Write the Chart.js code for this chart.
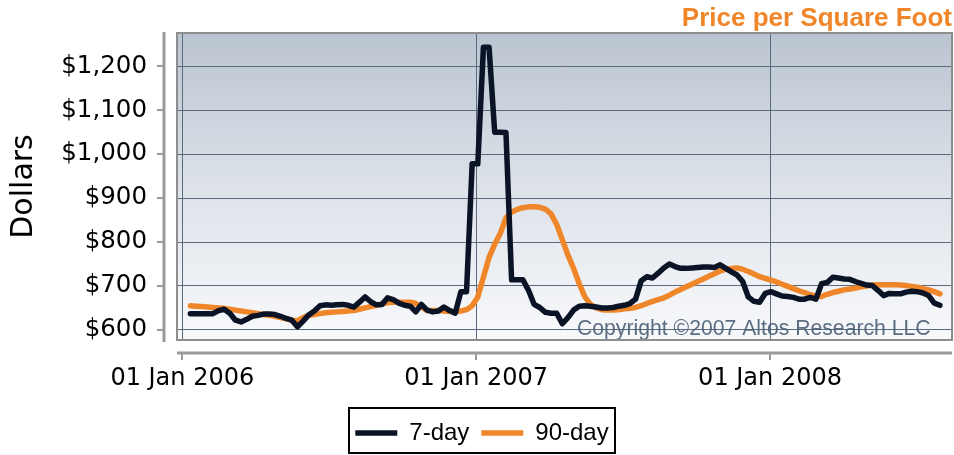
<!DOCTYPE html>
<html>
<head>
<meta charset="utf-8">
<script src="https://cdn.jsdelivr.net/npm/chart.js@4.4.1/dist/chart.umd.min.js"></script>
<style>
  html, body { margin: 0; padding: 0; background: #ffffff; }
  #wrap { width: 954px; height: 455px; }
</style>
</head>
<body>
<div id="wrap"><canvas id="c" width="954" height="455"></canvas></div>
<script>
// ---- Data (weekly readings; day offsets counted from 01 Jan 2006) ----
const firstReadingDay = 10;   // day of the first weekly reading
const readingStepDays = 7;    // readings are weekly

const sevenDay = [
  637,637,637,637,637,644,647,638,622,618,
  624,631,633,636,636,635,631,626,622,607,
  620,634,643,655,657,656,657,658,656,652,
  663,675,664,657,658,673,669,661,656,654,
  641,658,645,641,643,652,644,638,687,687,
  978,978,1243,1243,1050,1050,1049,714,714,714,
  690,658,651,640,638,638,614,628,645,654,
  655,654,652,650,650,651,654,656,660,670,
  712,721,718,729,741,750,744,740,740,741,
  742,743,743,742,748,740,732,725,710,675,
  665,663,683,687,682,677,676,674,670,670,
  674,670,705,708,720,718,716,715,710,706,
  702,701,690,678,683,682,682,686,688,687,
  684,678,661,656
];

const ninetyDay = [
  655,654,653,652,651,650,649,647,645,643,
  641,639,637,635,633,631,628,625,622,621,
  628,633,635,637,639,640,641,642,643,644,
  647,650,653,656,659,662,663,663,663,663,
  660,652,644,644,644,643,642,642,643,646,
  655,675,720,765,795,820,855,868,874,878,
  880,880,879,875,864,840,805,770,740,705,
  675,658,650,646,645,645,646,648,649,651,
  655,660,665,669,673,679,686,692,698,704,
  710,716,722,728,734,738,740,741,738,733,
  727,721,717,713,709,704,699,694,689,685,
  680,677,676,681,685,688,691,693,695,698,
  700,702,703,703,703,703,702,701,699,697,
  694,691,687,682
];

const readingDays = sevenDay.map((_, i) => firstReadingDay + i * readingStepDays);

const seriesNames = ['7-day', '90-day'];
const yTickValues = [600, 700, 800, 900, 1000, 1100, 1200];
const xTickDays = [0, 365, 730];
const xTickLabels = ['01 Jan 2006', '01 Jan 2007', '01 Jan 2008'];
const chartTitle = 'Price per Square Foot';
const yAxisTitle = 'Dollars';
const copyrightText = 'Copyright \u00A92007 Altos Research LLC';

// ---- Styling ----
const DARK = '#0b1426';
const ORANGE = '#f0862a';
const GRID = '#5b6b7f';
const AXIS_GRAY = '#9a9a9a';

const decor = {
  id: 'decor',
  beforeDraw(chart) {
    const { ctx, chartArea: a } = chart;
    const g = ctx.createLinearGradient(0, a.top, 0, a.bottom);
    g.addColorStop(0, '#bac4d0');
    g.addColorStop(0.5, '#dde2e9');
    g.addColorStop(1, '#f8f9fb');
    ctx.save();
    ctx.fillStyle = g;
    ctx.fillRect(a.left, a.top, a.right - a.left, a.bottom - a.top);
    ctx.restore();
  },
  afterDatasetsDraw(chart) {
    const { ctx, chartArea: a } = chart;
    ctx.save();
    ctx.font = '21.2px "Liberation Sans", Arial, sans-serif';
    ctx.fillStyle = 'rgba(74, 94, 118, 0.9)';
    ctx.textAlign = 'left';
    ctx.textBaseline = 'alphabetic';
    ctx.fillText(copyrightText, a.left + 400, a.bottom - 5.5);
    ctx.restore();
  },
  afterDraw(chart) {
    const { ctx, chartArea: a, scales } = chart;
    const x = scales.x, y = scales.y;
    ctx.save();
    // plot frame
    ctx.strokeStyle = '#8e8e8e';
    ctx.lineWidth = 2;
    ctx.strokeRect(a.left, a.top, a.right - a.left, a.bottom - a.top);
    // detached y axis
    const ax = a.left - 13;
    ctx.strokeStyle = AXIS_GRAY;
    ctx.lineWidth = 3;
    ctx.beginPath(); ctx.moveTo(ax, a.top - 1); ctx.lineTo(ax, a.bottom + 2); ctx.stroke();
    ctx.lineWidth = 2;
    y.ticks.forEach(t => {
      const py = Math.round(y.getPixelForValue(t.value));
      ctx.beginPath(); ctx.moveTo(ax - 7, py); ctx.lineTo(ax, py); ctx.stroke();
    });
    // detached x axis
    const ay = a.bottom + 13;
    ctx.lineWidth = 3;
    ctx.beginPath(); ctx.moveTo(a.left, ay); ctx.lineTo(a.right, ay); ctx.stroke();
    ctx.lineWidth = 2;
    x.ticks.forEach(t => {
      const px = Math.round(x.getPixelForValue(t.value));
      ctx.beginPath(); ctx.moveTo(px, ay); ctx.lineTo(px, ay + 7); ctx.stroke();
    });
    // legend frame
    const hb = chart.legend && chart.legend.legendHitBoxes;
    if (hb && hb.length) {
      const l = Math.min(...hb.map(h => h.left)) - 6;
      const r = Math.max(...hb.map(h => h.left + h.width)) + 7;
      ctx.strokeStyle = '#000';
      ctx.lineWidth = 2;
      ctx.strokeRect(Math.round(l), 408, Math.round(r - l), 45);
    }
    ctx.restore();
  }
};

new Chart(document.getElementById('c'), {
  type: 'line',
  data: {
    labels: readingDays,
    datasets: [
      {
        label: seriesNames[0],
        data: sevenDay,
        borderColor: DARK,
        backgroundColor: DARK,
        borderWidth: 5.5,
        borderJoinStyle: 'round',
        borderCapStyle: 'round',
        pointRadius: 0,
        tension: 0,
        fill: false
      },
      {
        label: seriesNames[1],
        data: ninetyDay,
        borderColor: ORANGE,
        backgroundColor: ORANGE,
        borderWidth: 5.5,
        borderJoinStyle: 'round',
        borderCapStyle: 'round',
        pointRadius: 0,
        tension: 0,
        fill: false
      }
    ]
  },
  options: {
    responsive: false,
    animation: false,
    devicePixelRatio: 1,
    layout: { padding: { left: 12, right: 2, top: 0, bottom: 0 } },
    plugins: {
      tooltip: { enabled: false },
      title: {
        display: true,
        text: chartTitle,
        align: 'end',
        color: ORANGE,
        font: { family: '"Liberation Sans", Arial, sans-serif', size: 26, weight: 'bold', lineHeight: 1.0 },
        padding: { top: 6, bottom: 1 }
      },
      legend: {
        display: true,
        position: 'bottom',
        labels: {
          usePointStyle: true,
          pointStyle: 'line',
          pointStyleWidth: 42,
          color: '#000',
          padding: 12,
          font: { family: '"Liberation Sans", Arial, sans-serif', size: 24 }
        }
      }
    },
    scales: {
      x: {
        type: 'linear',
        min: -6.6,
        max: 956,
        afterFit(s) { s.height = 69; s.paddingLeft = 0; s.paddingRight = 0; },
        afterBuildTicks(s) { s.ticks = xTickDays.map(v => ({ value: v })); },
        border: { display: false },
        grid: { color: GRID, lineWidth: 1, drawTicks: false },
        ticks: {
          padding: 24,
          color: '#000',
          maxRotation: 0,
          font: { family: '"DejaVu Sans", sans-serif', size: 24 },
          callback: (v) => { const k = xTickDays.indexOf(v); return k >= 0 ? xTickLabels[k] : ''; }
        }
      },
      y: {
        type: 'linear',
        min: 577,
        max: 1275.6,
        afterFit(s) { s.width = 165; s.paddingTop = 0; s.paddingBottom = 0; },
        afterBuildTicks(s) { s.ticks = yTickValues.map(v => ({ value: v })); },
        border: { display: false },
        grid: { color: GRID, lineWidth: 1, drawTicks: false },
        title: {
          display: true,
          text: yAxisTitle,
          color: '#000',
          font: { family: '"DejaVu Sans", sans-serif', size: 30 },
          padding: { top: -6, bottom: 0 }
        },
        ticks: {
          padding: 30,
          color: '#000',
          font: { family: '"DejaVu Sans", sans-serif', size: 24.5 },
          callback: (v) => '$' + Number(v).toLocaleString('en-US')
        }
      }
    }
  },
  plugins: [decor]
});
</script>
</body>
</html>
